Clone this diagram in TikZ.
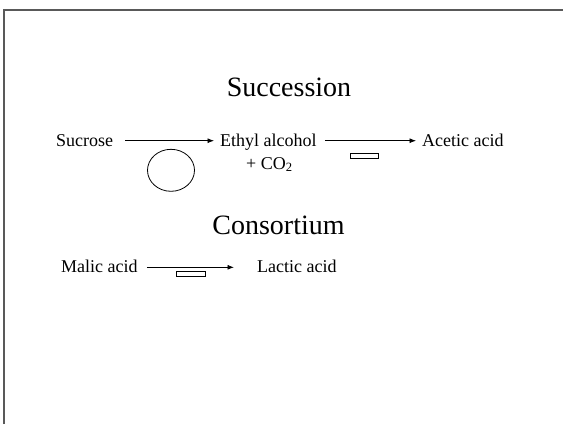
\documentclass[tikz,border=0pt]{standalone}
\usepackage{fontspec}
\setmainfont{Liberation Serif}
\usetikzlibrary{arrows.meta,shapes.geometric}
\begin{document}
\begin{tikzpicture}[x=1pt,y=-1pt,
  lbl/.style={anchor=base west,inner sep=0pt,font=\fontsize{18}{20}\selectfont},
  ttl/.style={anchor=base,inner sep=0pt,font=\fontsize{28}{32}\selectfont},
  arr/.style={line width=0.8pt,-{Latex[length=6.5pt,width=5pt]}},
  bar/.style={draw,line width=0.8pt,inner sep=0pt,minimum width=28pt,minimum height=4.5pt},
  org/.style={draw,line width=0.8pt,ellipse,inner sep=0pt,minimum width=47pt,minimum height=42pt}]
\useasboundingbox (0,0) rectangle (563,424);
\draw[black!65,line width=1.1pt] (4,424) -- (4,10) -- (563,10);
% titles
\node[ttl] (t1) at (289,96) {Succession};
\node[ttl] (t2) at (278.5,234) {Consortium};
% row 1
\node[lbl] (suc) at (56,146) {Sucrose};
\node[lbl] (eth) at (220,146) {Ethyl alcohol};
\node[lbl] (co2) at (246,169) {+ CO\textsubscript{2}};
\node[lbl] (ace) at (422,146) {Acetic acid};
\draw[arr] ([shift={(12,-5.3)}]suc.base east) -- ([shift={(-6,-5.3)}]eth.base west);
\draw[arr] ([shift={(8,-5.3)}]eth.base east) -- ([shift={(-6,-5.3)}]ace.base west);
\node[org] (yeast) at (171,170.3) {};
\node[bar] (bact1) at (364,155.7) {};
% row 2
\node[lbl] (mal) at (61,272) {Malic acid};
\node[lbl] (lac) at (257,272) {Lactic acid};
\draw[arr] ([shift={(9,-4.7)}]mal.base east) -- ([shift={(-23,-4.7)}]lac.base west);
\node[bar,minimum width=29pt] (bact2) at (190.5,274) {};
\end{tikzpicture}
\end{document}
